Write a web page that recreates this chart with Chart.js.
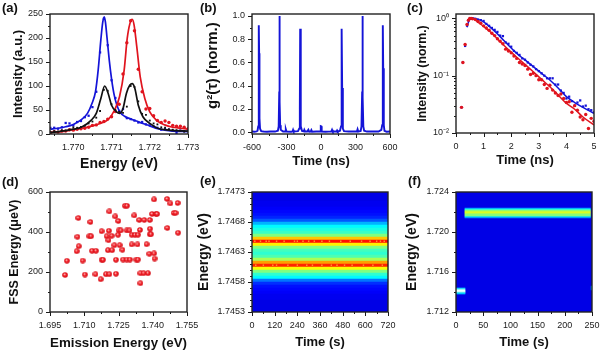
<!DOCTYPE html>
<html lang="en">
<head>
    <meta charset="UTF-8">
    <title>Quantum dot panels</title>
    <script src="https://cdn.jsdelivr.net/npm/chart.js"></script>
    <style>
        body { margin: 0; background: #fff; width: 600px; height: 351px; overflow: hidden; position: relative; }
        canvas { position: absolute; filter: blur(0.35px); }
        .tag { position: absolute; font: bold 13px "Liberation Sans", Arial, sans-serif; color: #111; line-height: 14px; }
    </style>
</head>
<body>
    <canvas id="panelA" width="200" height="175" style="left:0;top:0"></canvas>
    <canvas id="panelB" width="204" height="175" style="left:196px;top:0"></canvas>
    <canvas id="panelC" width="204" height="175" style="left:396px;top:0"></canvas>
    <canvas id="panelD" width="200" height="176" style="left:0;top:175px"></canvas>
    <canvas id="panelE" width="204" height="176" style="left:196px;top:175px"></canvas>
    <canvas id="panelF" width="204" height="176" style="left:396px;top:175px"></canvas>
    <div class="tag" style="left:2px;top:1px">(a)</div>
    <div class="tag" style="left:200px;top:1px">(b)</div>
    <div class="tag" style="left:407px;top:1px">(c)</div>
    <div class="tag" style="left:2px;top:175px">(d)</div>
    <div class="tag" style="left:200px;top:174px">(e)</div>
    <div class="tag" style="left:408px;top:174px">(f)</div>

    <script>
        // (a) spectra
        var aLineBlueE = [1.7694, 1.7696, 1.7698, 1.7700, 1.77021, 1.77037, 1.77049, 1.77058, 1.77065, 1.77072, 1.77077, 1.77081, 1.77084, 1.77088, 1.77094, 1.77100, 1.77107, 1.77114, 1.77122, 1.77134, 1.77148, 1.77165, 1.77182, 1.77200, 1.77221, 1.77239, 1.7726, 1.7730];
        var aLineBlue = [10, 12, 15, 20, 30, 43, 64, 88, 133, 196, 233, 244, 233, 202, 154, 115, 81, 60, 46, 37, 32, 27, 22, 17, 11, 8, 6, 5];
        var aLineRedE = [1.7694, 1.7697, 1.7700, 1.7703, 1.7705, 1.7707, 1.77091, 1.77108, 1.77121, 1.77133, 1.77141, 1.77148, 1.77154, 1.77159, 1.77166, 1.77175, 1.77187, 1.77200, 1.77217, 1.77239, 1.7726, 1.7728, 1.7730];
        var aLineRed = [3, 5, 9, 13, 17, 22, 30, 50, 78, 133, 199, 230, 239, 227, 182, 119, 74, 46, 29, 19, 14, 12, 10];
        var aLineBlackE = [1.7694, 1.7697, 1.7700, 1.77021, 1.77047, 1.7706, 1.77072, 1.77082, 1.77091, 1.771, 1.77113, 1.77121, 1.7713, 1.77139, 1.77148, 1.77154, 1.77161, 1.7717, 1.77182, 1.772, 1.77221, 1.7725, 1.7730];
        var aLineBlack = [3, 6, 10, 14, 29, 43, 74, 100, 85, 60, 46, 43, 53, 85, 102, 105, 95, 60, 36, 22, 12, 8, 6];
        var aDotE = [1.7694, 1.7695, 1.7696, 1.7697, 1.7698, 1.7699, 1.7700, 1.7701, 1.7702, 1.7703, 1.7704, 1.7705, 1.7706, 1.7707, 1.7708, 1.7709, 1.7710, 1.7711, 1.7712, 1.7713, 1.7714, 1.7715, 1.7716, 1.7717, 1.7718, 1.7719, 1.7720, 1.7721, 1.7722, 1.7723, 1.7724, 1.7725, 1.7726, 1.7727, 1.7728, 1.7729, 1.7730];
        var aDotBlue = [13, 13, 11, 14, 23, 22, 18, 25, 27, 35, 38, 56, 88, 170, 240, 185, 112, 75, 48, 52, 33, 31, 28, 24, 25, 20, 18, 16, 13, 9, 10, 9, 7, 2, 7, 6, 8];
        var aDotRed = [3, 5, 4, 6, 6, 9, 8, 10, 11, 12, 14, 18, 19, 24, 26, 31, 36, 47, 62, 125, 190, 236, 215, 135, 88, 52, 53, 38, 28, 24, 27, 24, 18, 16, 16, 14, 11];
        var aDotBlack = [4, 6, 5, 8, 7, 9, 14, 13, 15, 17, 22, 26, 34, 48, 92, 90, 62, 50, 46, 44, 57, 100, 98, 68, 42, 40, 28, 22, 20, 14, 13, 10, 9, 8, 7, 5, 6];
        var aXTicks = [1.770, 1.771, 1.772, 1.773];
        var aXLabels = ['1.770', '1.771', '1.772', '1.773'];
        var aXMinor = [1.7695, 1.7705, 1.7715, 1.7725];
        var aYTicks = [0, 50, 100, 150, 200, 250];
        var aYMinor = [25, 75, 125, 175, 225];

        // (b) g2 correlation
        var bTime = [-600, -580, -560, -552, -546, -542, -540, -538, -535, -530, -520, -500, -470, -440, -400, -375, -368, -363, -361, -359, -355, -350, -330, -312, -306, -300, -260, -248, -243, -238, -200, -190, -184, -181, -178, -174, -165, -150, -145, -138, -120, -110, -103, -90, -84, -78, -40, -5, -2, 3, 6, 40, 90, 96, 102, 135, 140, 146, 165, 174, 178, 181, 184, 190, 200, 240, 312, 318, 324, 345, 352, 358, 361, 363, 368, 375, 400, 440, 500, 525, 532, 536, 539, 541, 546, 552, 570, 600];
        var bValue = [0.005, 0.003, 0.006, 0.012, 0.05, 0.4, 0.92, 0.68, 0.12, 0.03, 0.008, 0.005, 0.004, 0.006, 0.005, 0.012, 0.05, 0.35, 1.0, 0.26, 0.06, 0.02, 0.005, 0.005, 0.025, 0.005, 0.004, 0.006, 0.02, 0.005, 0.008, 0.03, 0.2, 0.89, 0.3, 0.05, 0.01, 0.006, 0.02, 0.005, 0.005, 0.02, 0.004, 0.005, 0.018, 0.004, 0.005, 0.005, 0.052, 0.05, 0.005, 0.004, 0.006, 0.02, 0.005, 0.005, 0.015, 0.005, 0.012, 0.05, 0.3, 0.89, 0.38, 0.03, 0.008, 0.005, 0.006, 0.025, 0.005, 0.01, 0.05, 0.35, 1.0, 0.3, 0.05, 0.012, 0.005, 0.005, 0.005, 0.02, 0.06, 0.35, 0.92, 0.55, 0.06, 0.012, 0.004, 0.005];
        var bXTicks = [-600, -300, 0, 300, 600];
        var bXMinor = [-450, -150, 150, 450];
        var bYTicks = [0, 0.2, 0.4, 0.6, 0.8, 1.0];
        var bYLabels = ['0.0', '0.2', '0.4', '0.6', '0.8', '1.0'];
        var bYMinor = [0.1, 0.3, 0.5, 0.7, 0.9];

        // (c) decay
        var cLineBlueT = [0.4, 0.5, 0.6, 0.8, 1, 1.3, 1.6, 1.9, 2.2, 2.5, 2.8, 3.1, 3.4, 3.7, 4, 4.3, 4.6, 5];
        var cLineBlue = [0.7, 0.98, 1, 0.96, 0.87, 0.66, 0.48, 0.34, 0.245, 0.188, 0.144, 0.11, 0.084, 0.061, 0.043, 0.034, 0.028, 0.022];
        var cLineRedT = [0.45, 0.5, 0.6, 0.8, 1, 1.3, 1.6, 1.9, 2.2, 2.5, 2.8, 3.1, 3.4, 3.7, 4, 4.3, 4.6, 5];
        var cLineRed = [0.9, 0.99, 1, 0.85, 0.72, 0.55, 0.39, 0.285, 0.21, 0.157, 0.117, 0.086, 0.064, 0.046, 0.033, 0.026, 0.019, 0.0138];
        var cDotT = [0.2, 0.25, 0.33, 0.4, 0.45, 0.5, 0.55, 0.6, 0.7, 0.8, 0.9, 1, 1.1, 1.2, 1.3, 1.4, 1.5, 1.6, 1.7, 1.8, 1.9, 2, 2.1, 2.2, 2.3, 2.4, 2.5, 2.6, 2.7, 2.8, 2.9, 3, 3.1, 3.2, 3.3, 3.4, 3.5, 3.6, 3.7, 3.8, 3.9, 4, 4.1, 4.2, 4.3, 4.4, 4.5, 4.6, 4.7, 4.8, 4.9, 5];
        var cDotBlue = [0.028, 0.17, 0.33, 0.75, 0.92, 0.98, 1, 1, 0.98, 0.95, 0.93, 0.9, 0.8, 0.74, 0.68, 0.63, 0.58, 0.5, 0.49, 0.38, 0.36, 0.32, 0.27, 0.25, 0.23, 0.2, 0.19, 0.17, 0.155, 0.145, 0.13, 0.12, 0.11, 0.1, 0.09, 0.09, 0.09, 0.07, 0.07, 0.055, 0.05, 0.04, 0.043, 0.036, 0.03, 0.034, 0.037, 0.029, 0.03, 0.026, 0.025, 0.023];
        var cDotRed = [0.028, 0.17, 0.35, 0.78, 0.93, 1, 1, 0.98, 0.95, 0.88, 0.82, 0.74, 0.68, 0.62, 0.55, 0.5, 0.44, 0.4, 0.36, 0.29, 0.27, 0.25, 0.22, 0.2, 0.17, 0.16, 0.15, 0.13, 0.105, 0.11, 0.1, 0.085, 0.085, 0.07, 0.06, 0.068, 0.056, 0.05, 0.045, 0.048, 0.04, 0.034, 0.035, 0.023, 0.03, 0.025, 0.019, 0.017, 0.021, 0.012, 0.018, 0.016];
        var cXTicks = [0, 1, 2, 3, 4, 5];
        var cXMinor = [0.5, 1.5, 2.5, 3.5, 4.5];
        var cYTicks = [0.01, 0.1, 1];
        var cYLabels = ['10⁻²', '10⁻¹', '10⁰'];
        var cYMinor = [0.02, 0.03, 0.04, 0.05, 0.06, 0.07, 0.08, 0.09, 0.2, 0.3, 0.4, 0.5, 0.6, 0.7, 0.8, 0.9];

        // (d) fine structure splitting
        var dEmission = [1.7016, 1.7024, 1.7067, 1.7076, 1.7070, 1.7074, 1.7093, 1.7103, 1.7127, 1.7122, 1.7130, 1.7134, 1.7151, 1.7149, 1.7172, 1.7176, 1.7182, 1.7176, 1.7195, 1.7210, 1.7198, 1.7206, 1.7208, 1.7210, 1.7204, 1.7222, 1.7220, 1.7232, 1.7236, 1.7239, 1.7239, 1.7249, 1.7248, 1.7251, 1.7260, 1.7255, 1.7267, 1.7270, 1.7278, 1.7287, 1.7286, 1.7298, 1.7286, 1.7300, 1.7308, 1.7308, 1.7319, 1.7322, 1.7335, 1.7333, 1.7328, 1.7335, 1.7344, 1.7341, 1.7346, 1.7346, 1.7360, 1.7379, 1.7363, 1.7387, 1.7373, 1.7385, 1.7387, 1.7392, 1.7388, 1.7397, 1.7406, 1.7408, 1.7406, 1.7414, 1.7419, 1.7463, 1.7464, 1.7477, 1.7492, 1.7500, 1.7509, 1.7511];
        var dFss = [185, 256, 304, 329, 376, 470, 257, 187, 450, 379, 379, 306, 306, 189, 164, 261, 261, 404, 189, 189, 379, 359, 406, 503, 309, 309, 381, 334, 478, 261, 191, 455, 386, 408, 408, 334, 311, 262, 531, 531, 408, 408, 262, 262, 338, 386, 483, 386, 386, 338, 262, 262, 410, 460, 144, 194, 194, 194, 460, 460, 339, 291, 389, 389, 416, 490, 293, 267, 563, 490, 490, 565, 420, 543, 495, 495, 545, 396];
        var dXTicks = [1.695, 1.710, 1.725, 1.740, 1.755];
        var dXLabels = ['1.695', '1.710', '1.725', '1.740', '1.755'];
        var dXMinor = [1.7025, 1.7175, 1.7325, 1.7475];
        var dYTicks = [0, 200, 400, 600];
        var dYMinor = [100, 300, 500];

        // (e) time trace, one level per energy row
        var eRowE = [1.747275, 1.747225, 1.747175, 1.747125, 1.747075, 1.747025, 1.746975, 1.746925, 1.746875, 1.746825, 1.746775, 1.746725, 1.746675, 1.746625, 1.746575, 1.746525, 1.746475, 1.746425, 1.746375, 1.746325, 1.746275, 1.746225, 1.746175, 1.746125, 1.746075, 1.746025, 1.745975, 1.745925, 1.745875, 1.745825, 1.745775, 1.745725, 1.745675, 1.745625, 1.745575, 1.745525, 1.745475, 1.745425, 1.745375, 1.745325];
        var eRowLevel = [0.10, 0.10, 0.10, 0.11, 0.11, 0.12, 0.13, 0.14, 0.16, 0.21, 0.30, 0.37, 0.40, 0.43, 0.50, 0.68, 0.86, 0.64, 0.50, 0.44, 0.42, 0.45, 0.54, 0.72, 0.84, 0.62, 0.50, 0.42, 0.37, 0.24, 0.17, 0.14, 0.13, 0.12, 0.11, 0.11, 0.10, 0.10, 0.10, 0.10];
        var eSpotUpperT = [15, 45, 75, 90, 130, 170, 225, 240, 270, 300, 330, 370, 410, 470, 520, 580, 625, 660, 680, 700];
        var eSpotLowerT = [20, 60, 110, 130, 190, 240, 290, 320, 370, 420, 450, 490, 530, 590, 640, 690];
        var eSpotUpperE = 1.74648;
        var eSpotLowerE = 1.74608;
        var eXTicks = [0, 120, 240, 360, 480, 600, 720];
        var eXMinor = [60, 180, 300, 420, 540, 660];
        var eYTicks = [1.7453, 1.7458, 1.7463, 1.7468, 1.7473];
        var eYLabels = ['1.7453', '1.7458', '1.7463', '1.7468', '1.7473'];
        var eYMinor = [1.7454, 1.7455, 1.7456, 1.7457, 1.7459, 1.7460, 1.7461, 1.7462, 1.7464, 1.7465, 1.7466, 1.7467, 1.7469, 1.7470, 1.7471, 1.7472];

        // (f) spectral jump
        var fBandE = [1.72235, 1.72225, 1.72215, 1.72205, 1.72195, 1.72185, 1.72175, 1.72165, 1.72155, 1.72145];
        var fBandLevel = [0.28, 0.40, 0.50, 0.56, 0.60, 0.56, 0.50, 0.54, 0.42, 0.28];
        var fBandT = [16.5, 247];
        var fSideE = [1.71435, 1.71425, 1.71415, 1.71405, 1.71395, 1.71385];
        var fSideColor = ['#00c8ff', '#70f0f0', '#e8ffff', '#ffffff', '#70f0f0', '#00c8ff'];
        var fSideT = [0, 16.5];
        var fEdgeE = [1.71455, 1.71445, 1.71435, 1.71425];
        var fEdgeT = [248.5, 250];
        var fXTicks = [0, 50, 100, 150, 200, 250];
        var fXMinor = [25, 75, 125, 175, 225];
        var fYTicks = [1.712, 1.716, 1.720, 1.724];
        var fYLabels = ['1.712', '1.716', '1.720', '1.724'];
        var fYMinor = [1.714, 1.718, 1.722];

        var BLUE = '#1414d8';
        var RED = '#e0141e';
        var BLACK = '#111111';

        Chart.defaults.font.family = '"Liberation Sans", Arial, sans-serif';
        Chart.defaults.color = '#1a1a1a';

        function xy(xs, ys) {
            return xs.map(function (x, i) { return { x: x, y: ys[i] }; });
        }

        function jet(v) {
            function c(n) { return Math.round(255 * Math.max(0, Math.min(1, 1.5 - Math.abs(4 * v - n)))); }
            return 'rgb(' + c(3) + ',' + c(2) + ',' + c(1) + ')';
        }

        function lineSet(xs, ys, color, width) {
            return { type: 'scatter', showLine: true, data: xy(xs, ys), borderColor: color, borderWidth: width, pointRadius: 0, cubicInterpolationMode: 'monotone' };
        }

        function dotSet(xs, ys, color, style, radius) {
            return { type: 'scatter', showLine: false, data: xy(xs, ys), backgroundColor: color, borderWidth: 0, pointStyle: style || 'circle', pointRadius: radius || 1.7 };
        }

        function rowSet(rows, range, colorOf, thickness) {
            return {
                type: 'bar', grouped: false, barThickness: thickness, borderWidth: 0,
                data: rows.map(function (e) { return { x: range, y: e }; }),
                backgroundColor: function (ctx) { return colorOf(ctx.dataIndex); }
            };
        }

        // frame and ticks, placed with the chart's own scales
        var framePlugin = {
            id: 'frame',
            beforeDatasetsDraw: function (chart, args, opts) {
                if (!opts.area) return;
                var a = chart.chartArea, ctx = chart.ctx;
                ctx.save();
                ctx.fillStyle = opts.area;
                ctx.fillRect(a.left, a.top, a.width, a.height);
                ctx.restore();
            },
            afterDatasetsDraw: function (chart, args, opts) {
                var a = chart.chartArea, ctx = chart.ctx;
                var sx = chart.scales.x, sy = chart.scales.y;
                ctx.save();
                ctx.strokeStyle = '#1a1a1a';
                ctx.lineWidth = 1;
                function tickX(v, len) {
                    var p = Math.round(sx.getPixelForValue(v)) + 0.5;
                    ctx.beginPath(); ctx.moveTo(p, a.bottom); ctx.lineTo(p, a.bottom + len); ctx.stroke();
                }
                function tickY(v, len) {
                    var p = Math.round(sy.getPixelForValue(v)) + 0.5;
                    ctx.beginPath(); ctx.moveTo(a.left, p); ctx.lineTo(a.left - len, p); ctx.stroke();
                }
                opts.xMajor.forEach(function (v) { tickX(v, 4); });
                opts.xMinor.forEach(function (v) { tickX(v, 2); });
                opts.yMajor.forEach(function (v) { tickY(v, 4); });
                opts.yMinor.forEach(function (v) { tickY(v, 2); });
                ctx.lineWidth = 1.4;
                ctx.strokeStyle = '#222';
                ctx.strokeRect(a.left, a.top, a.width, a.height);
                ctx.restore();
            }
        };

        function labelFor(ticks, labels) {
            return function (value) {
                if (!labels) return String(value);
                var i = ticks.findIndex(function (t) { return Math.abs(t - value) < 1e-9; });
                return i < 0 ? '' : labels[i];
            };
        }

        function makePanel(id, p) {
            var canvas = document.getElementById(id);
            var cw = canvas.width, ch = canvas.height;
            var xSize = p.xTitleSize || 13;
            var ySize = p.yTitleSize || 13;

            function xScale() {
                return {
                    type: 'linear', min: p.xMin, max: p.xMax, offset: false,
                    grid: { display: false, drawTicks: false, offset: false }, border: { display: false },
                    ticks: { autoSkip: false, maxRotation: 0, padding: 8, font: { size: 9 }, callback: labelFor(p.xTicks, p.xLabels) },
                    afterBuildTicks: function (s) { s.ticks = p.xTicks.map(function (v) { return { value: v }; }); },
                    afterFit: function (s) { s.height = ch - p.bottom; s.paddingLeft = s.paddingRight = 0; },
                    title: { display: true, text: p.xTitle, font: { size: xSize, weight: 'bold' }, color: '#111', padding: { top: 0, bottom: ch - p.xTitleY - xSize * 0.6 } }
                };
            }

            function yScale() {
                return {
                    type: p.yLog ? 'logarithmic' : 'linear', min: p.yMin, max: p.yMax, offset: false,
                    grid: { display: false, drawTicks: false, offset: false }, border: { display: false },
                    ticks: { autoSkip: false, padding: 7, font: { size: 9 }, callback: labelFor(p.yTicks, p.yLabels) },
                    afterBuildTicks: function (s) { s.ticks = p.yTicks.map(function (v) { return { value: v }; }); },
                    afterFit: function (s) { s.width = p.left; s.paddingTop = s.paddingBottom = 0; },
                    title: { display: true, text: p.yTitle, font: { size: ySize, weight: 'bold' }, color: '#111', padding: { top: p.yTitleX - ySize * 0.6, bottom: 0 } }
                };
            }

            return new Chart(canvas, {
                type: p.indexY ? 'bar' : 'scatter',
                data: { datasets: p.datasets },
                plugins: [framePlugin],
                options: {
                    responsive: false, animation: false, devicePixelRatio: 1,
                    indexAxis: p.indexY ? 'y' : 'x',
                    layout: { padding: { left: 0, bottom: 0, top: p.top, right: cw - p.right } },
                    scales: { x: xScale(), y: yScale() },
                    plugins: {
                        legend: { display: false }, tooltip: { enabled: false },
                        frame: { area: p.area, xMajor: p.xTicks, xMinor: p.xMinor, yMajor: p.yTicks, yMinor: p.yMinor }
                    }
                }
            });
        }

        function sphere() {
            var c = document.createElement('canvas');
            c.width = 6; c.height = 6;
            var g = c.getContext('2d');
            var grad = g.createRadialGradient(2.4, 2.2, 0.2, 3, 3, 3);
            grad.addColorStop(0, '#ffb8b8');
            grad.addColorStop(0.45, '#f01c24');
            grad.addColorStop(1, '#d01018');
            g.fillStyle = grad;
            g.beginPath(); g.arc(3, 3, 2.8, 0, Math.PI * 2); g.fill();
            return c;
        }

        makePanel('panelA', {
            left: 50, right: 188, top: 14, bottom: 134,
            xMin: 1.76939, xMax: 1.773, yMin: 0, yMax: 250,
            xTicks: aXTicks, xLabels: aXLabels, xMinor: aXMinor, yTicks: aYTicks, yMinor: aYMinor,
            xTitle: 'Energy (eV)', xTitleSize: 14, xTitleY: 164, yTitle: 'Intensity (a.u.)', yTitleX: 18,
            datasets: [
                lineSet(aLineBlackE, aLineBlack, BLACK, 1.7),
                dotSet(aDotE, aDotBlack, BLACK, 'rect', 1.3),
                lineSet(aLineRedE, aLineRed, RED, 1.7),
                dotSet(aDotE, aDotRed, RED),
                lineSet(aLineBlueE, aLineBlue, BLUE, 1.7),
                dotSet(aDotE, aDotBlue, BLUE, 'rect', 1.6)
            ]
        });

        var bLine = lineSet(bTime, bValue, BLUE, 1.9);
        bLine.cubicInterpolationMode = 'default';
        makePanel('panelB', {
            left: 56, right: 194, top: 14, bottom: 134,
            xMin: -600, xMax: 600, yMin: -0.016, yMax: 1.017,
            xTicks: bXTicks, xMinor: bXMinor, yTicks: bYTicks, yLabels: bYLabels, yMinor: bYMinor,
            xTitle: 'Time (ns)', xTitleY: 161, yTitle: '\u00a0\u00a0\u00a0\u00a0g²(τ) (norm.)', yTitleX: 17, yTitleSize: 15,
            datasets: [bLine]
        });

        makePanel('panelC', {
            left: 60, right: 198, top: 14, bottom: 133, yLog: true,
            xMin: 0, xMax: 5, yMin: 0.01, yMax: 1.19,
            xTicks: cXTicks, xMinor: cXMinor, yTicks: cYTicks, yLabels: cYLabels, yMinor: cYMinor,
            xTitle: 'Time (ns)', xTitleY: 160, yTitle: 'Intensity (norm.)', yTitleX: 27, yTitleSize: 12.3,
            datasets: [
                lineSet(cLineRedT, cLineRed, RED, 1.5),
                dotSet(cDotT, cDotRed, RED),
                lineSet(cLineBlueT, cLineBlue, BLUE, 1.5),
                dotSet(cDotT, cDotBlue, BLUE, 'rect', 1.6)
            ]
        });

        makePanel('panelD', {
            left: 50, right: 187, top: 17, bottom: 137,
            xMin: 1.695, xMax: 1.755, yMin: 0, yMax: 600,
            xTicks: dXTicks, xLabels: dXLabels, xMinor: dXMinor, yTicks: dYTicks, yMinor: dYMinor,
            xTitle: 'Emission Energy (eV)', xTitleSize: 13.5, xTitleY: 168, yTitle: 'FSS Energy (μeV)', yTitleX: 15, yTitleSize: 12.5,
            datasets: [dotSet(dEmission, dFss, RED, sphere(), 3)]
        });

        makePanel('panelE', {
            left: 56, right: 192, top: 17, bottom: 137, indexY: true,
            xMin: 0, xMax: 720, yMin: 1.7453, yMax: 1.7473,
            xTicks: eXTicks, xMinor: eXMinor, yTicks: eYTicks, yLabels: eYLabels, yMinor: eYMinor,
            xTitle: 'Time (s)', xTitleY: 167, yTitle: 'Energy (eV)', yTitleX: 8, yTitleSize: 14,
            datasets: [
                dotSet(eSpotUpperT, eSpotUpperT.map(function () { return eSpotUpperE; }), '#ff9a30', 'rect', 1),
                dotSet(eSpotLowerT, eSpotLowerT.map(function () { return eSpotLowerE; }), '#ff9a30', 'rect', 1),
                rowSet(eRowE, [0, 720], function (i) { return jet(eRowLevel[i]); }, 3)
            ]
        });

        makePanel('panelF', {
            left: 60, right: 196, top: 17, bottom: 137, indexY: true, area: '#0000e6',
            xMin: 0, xMax: 250, yMin: 1.712, yMax: 1.724,
            xTicks: fXTicks, xMinor: fXMinor, yTicks: fYTicks, yLabels: fYLabels, yMinor: fYMinor,
            xTitle: 'Time (s)', xTitleY: 167, yTitle: 'Energy (eV)', yTitleX: 16, yTitleSize: 14,
            datasets: [
                rowSet(fBandE, fBandT, function (i) { return jet(fBandLevel[i]); }, 1),
                rowSet(fSideE, fSideT, function (i) { return fSideColor[i]; }, 1),
                rowSet(fEdgeE, fEdgeT, function () { return '#00c8ff'; }, 1)
            ]
        });
    </script>
</body>
</html>
